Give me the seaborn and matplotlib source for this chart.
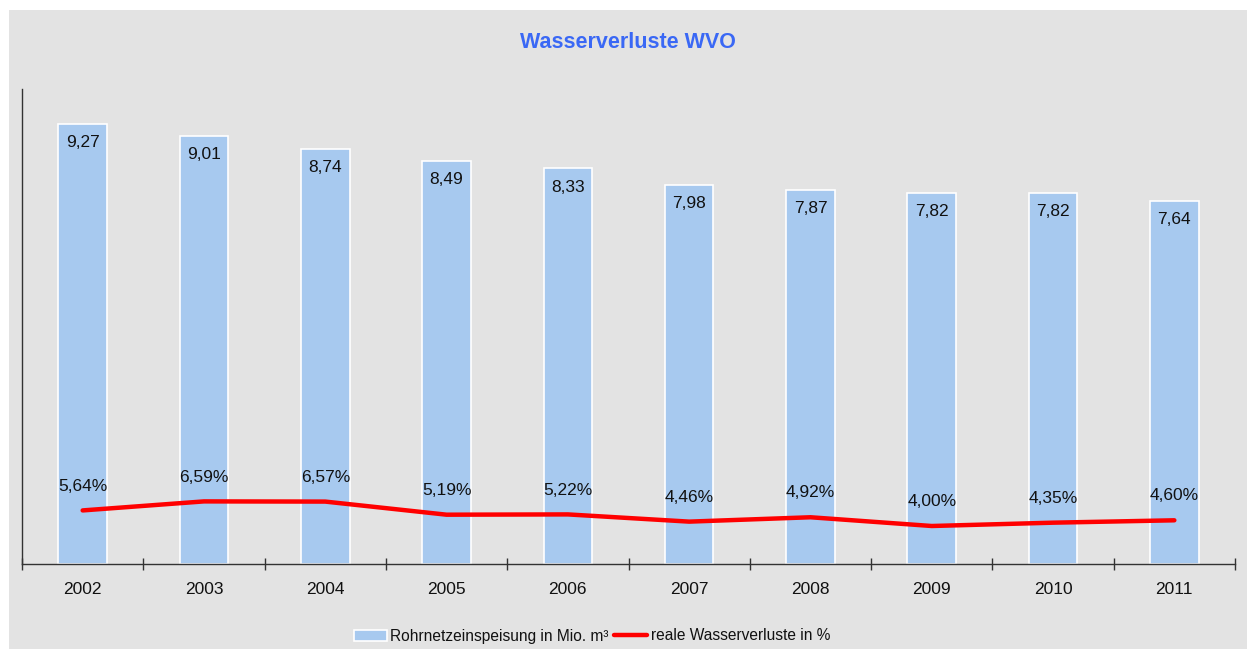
import numpy as np
import pandas as pd
import matplotlib
matplotlib.use("Agg")
import matplotlib.pyplot as plt
from matplotlib.patches import Rectangle, Patch
from matplotlib.lines import Line2D
import seaborn as sns

years = ["2002", "2003", "2004", "2005", "2006", "2007", "2008", "2009", "2010", "2011"]
einspeisung = [9.27, 9.01, 8.74, 8.49, 8.33, 7.98, 7.87, 7.82, 7.82, 7.64]
verluste_pct = [5.64, 6.59, 6.57, 5.19, 5.22, 4.46, 4.92, 4.00, 4.35, 4.60]

title = "Wasserverluste WVO"
bar_label = "Rohrnetzeinspeisung in Mio. m³"
line_label = "reale Wasserverluste in %"

sns.set_theme(style="white")
plt.rcParams["font.family"] = ["Liberation Sans", "DejaVu Sans"]

BG = "#e3e3e3"
BAR = "#a7c9ef"
RED = "#ff0000"
TXT = "#111111"
FS = 12.5

W, H = 1247, 649
fig = plt.figure(figsize=(W / 100, H / 100), dpi=100)
fig.patch.set_facecolor("white")
fig.patches.append(Rectangle((9 / W, 0), 1 - 9 / W, (H - 10) / H,
                             transform=fig.transFigure, facecolor=BG,
                             edgecolor="none", zorder=-10))

left, right = 22 / W, 1235 / W
bottom, top = 1 - 564 / H, 1 - 89 / H
ax = fig.add_axes([left, bottom, right - left, top - bottom])
ax.set_facecolor("none")

df = pd.DataFrame({"Jahr": years, "Wert": einspeisung})
sns.barplot(data=df, x="Jahr", y="Wert", ax=ax, color=BAR, width=0.4,
            edgecolor="white", linewidth=1.2, saturation=1)
ax.set_xlim(-0.5, len(years) - 0.5)
ax.set_ylim(0, 10)
ax.set_xlabel("")
ax.set_ylabel("")
ax.set_yticks([])
for s in ["top", "right"]:
    ax.spines[s].set_visible(False)
for s in ["left", "bottom"]:
    ax.spines[s].set_color("#333333")
    ax.spines[s].set_linewidth(1.0)
ax.set_xticks(np.arange(-0.5, len(years)), minor=True)
ax.tick_params(axis="x", which="major", bottom=False, length=0,
               labelsize=FS, labelcolor=TXT, pad=13)
ax.tick_params(axis="x", which="minor", bottom=True, length=9,
               direction="inout", color="#333333", width=1.0)

for i, v in enumerate(einspeisung):
    ax.annotate(f"{v:.2f}".replace(".", ","), (i, v), xytext=(0, -13.5),
                textcoords="offset points", ha="center", va="center",
                fontsize=FS, color=TXT)

ax2 = ax.twinx()
ax2.set_ylim(0, 50)
sns.lineplot(x=np.arange(len(years)), y=verluste_pct, ax=ax2, color=RED,
             linewidth=3.2, legend=False)
ax2.set_xlim(-0.5, len(years) - 0.5)
ax2.axis("off")
for i, v in enumerate(verluste_pct):
    ax2.annotate(f"{v:.2f}%".replace(".", ","), (i, v), xytext=(0, 17.5),
                 textcoords="offset points", ha="center", va="center",
                 fontsize=FS, color=TXT)

fig.text(628 / W, 1 - 43 / H, title, ha="center", va="center",
         fontsize=15.5, fontweight="bold", color="#3a68f5")

handles = [Patch(facecolor=BAR, edgecolor="white", linewidth=1.2),
           Line2D([0], [0], color=RED, linewidth=3.2)]
leg = fig.legend(handles, [bar_label, line_label], loc="center",
                 bbox_to_anchor=(592 / W, 1 - 636 / H), ncol=2, frameon=False,
                 fontsize=11.2, handlelength=2.1, handletextpad=0.25,
                 columnspacing=0.35, handleheight=0.7)
for t in leg.get_texts():
    t.set_color(TXT)

fig.savefig("out.png", dpi=100, facecolor="white")
